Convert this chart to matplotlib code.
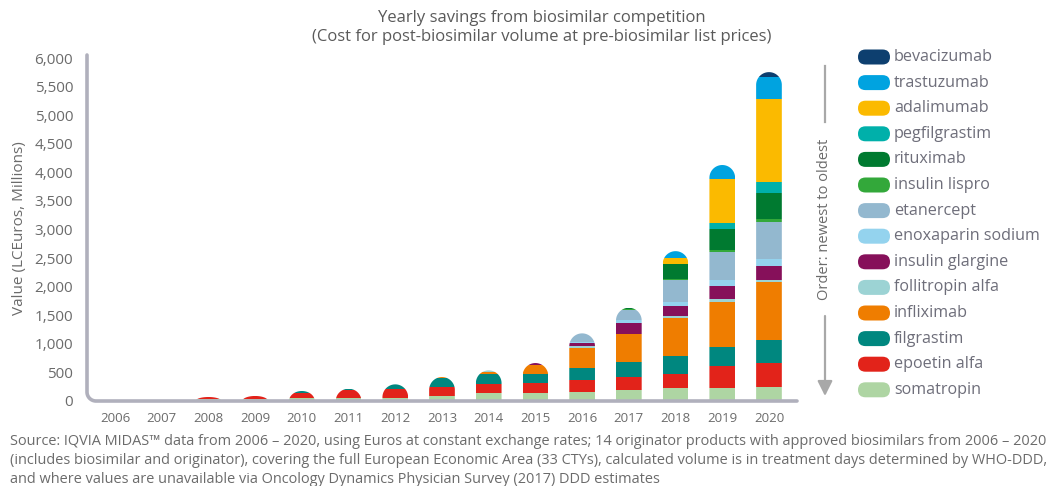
import numpy as np
import matplotlib
matplotlib.use('Agg')
import matplotlib.pyplot as plt
from matplotlib.patches import FancyBboxPatch, PathPatch
from matplotlib.path import Path
from matplotlib.transforms import IdentityTransform
from matplotlib.lines import Line2D

# ---------------- data (EUR millions) ----------------
years = [2006, 2007, 2008, 2009, 2010, 2011, 2012, 2013, 2014, 2015, 2016, 2017, 2018, 2019, 2020]

somatropin        = [3, 20, 28, 38, 58, 58, 58, 87, 146, 146, 157, 187, 233, 233, 251]
epoetin_alfa      = [0, 0, 42, 50, 76, 140, 157, 163, 157, 175, 210, 233, 239, 379, 408]
filgrastim        = [0, 0, 0, 0, 41, 17, 76, 146, 163, 146, 204, 262, 321, 338, 408]
infliximab        = [0, 0, 0, 0, 0, 0, 0, 23, 40, 157, 362, 484, 659, 787, 1021]
follitropin_alfa  = [0, 0, 0, 0, 0, 0, 0, 0, 30, 10, 29, 12, 35, 41, 29]
insulin_glargine  = [0, 0, 0, 0, 0, 0, 0, 0, 0, 30, 58, 181, 175, 233, 245]
enoxaparin_sodium = [0, 0, 0, 0, 0, 0, 0, 0, 0, 0, 17, 52, 64, 105, 122]
etanercept        = [0, 0, 0, 0, 0, 0, 0, 0, 0, 0, 146, 175, 385, 496, 653]
insulin_lispro    = [0, 0, 0, 0, 0, 0, 0, 0, 0, 0, 0, 25, 17, 29, 40]
rituximab         = [0, 0, 0, 0, 0, 0, 0, 0, 0, 0, 0, 20, 262, 367, 455]
pegfilgrastim     = [0, 0, 0, 0, 0, 0, 0, 0, 0, 0, 0, 0, 15, 111, 204]
adalimumab        = [0, 0, 0, 0, 0, 0, 0, 0, 0, 0, 0, 0, 99, 764, 1440]
trastuzumab       = [0, 0, 0, 0, 0, 0, 0, 0, 0, 0, 0, 0, 117, 245, 397]
bevacizumab       = [0, 0, 0, 0, 0, 0, 0, 0, 0, 0, 0, 0, 0, 0, 80]

# stacking order: bottom -> top
series_names = ["somatropin", "epoetin alfa", "filgrastim", "infliximab", "follitropin alfa",
                "insulin glargine", "enoxaparin sodium", "etanercept", "insulin lispro",
                "rituximab", "pegfilgrastim", "adalimumab", "trastuzumab", "bevacizumab"]
series_values = [somatropin, epoetin_alfa, filgrastim, infliximab, follitropin_alfa,
                 insulin_glargine, enoxaparin_sodium, etanercept, insulin_lispro,
                 rituximab, pegfilgrastim, adalimumab, trastuzumab, bevacizumab]
series_colors = ["#aed5a3", "#e2231a", "#00877f", "#ef7d00", "#9cd3d4",
                 "#86105a", "#94d3ee", "#93b8cf", "#33a83a",
                 "#007a30", "#00b0aa", "#fbba00", "#00a3e0", "#0d3f6f"]

yticks = list(range(0, 6001, 500))
ytick_labels = [f"{v:,}" for v in yticks]

title_line1 = "Yearly savings from biosimilar competition"
title_line2 = "(Cost for post-biosimilar volume at pre-biosimilar list prices)"
ylabel_text = "Value (LCEuros, Millions)"
order_text = "Order: newest to oldest"
source_lines = [
    "Source: IQVIA MIDAS\u2122 data from 2006 \u2013 2020, using Euros at constant exchange rates; 14 originator products with approved biosimilars from 2006 \u2013 2020",
    "(includes biosimilar and originator), covering the full European Economic Area (33 CTYs), calculated volume is in treatment days determined by WHO-DDD,",
    "and where values are unavailable via Oncology Dynamics Physician Survey (2017) DDD estimates",
]

# ---------------- style ----------------
plt.rcParams['font.family'] = ['Open Sans', 'DejaVu Sans']
TXT = "#6b6b6b"
AXC = "#b0b0bc"
W, H = 1051, 486
DPI = 100

fig = plt.figure(figsize=(W / DPI, H / DPI), dpi=DPI)
ax_left, ax_right, ax_top, ax_bot = 87, 797, 55, 401
ax = fig.add_axes([ax_left / W, 1 - ax_bot / H, (ax_right - ax_left) / W, (ax_bot - ax_top) / H])

x = np.arange(len(years))
bar_w = 0.55
ax.set_xlim(-0.6, len(years) - 1 + 0.6)
ax.set_ylim(0, 6000 * (ax_bot - ax_top) / (ax_bot - 58))

bottoms = np.zeros(len(years))
containers = []
for name, vals, col in zip(series_names, series_values, series_colors):
    v = np.array(vals, dtype=float)
    bc = ax.bar(x, v, bar_w, bottom=bottoms, color=col, linewidth=0, zorder=2)
    containers.append(bc)
    bottoms = bottoms + v
totals = bottoms

# rounded tops: clip every stack with a half-round cap shape
p0 = ax.transData.transform((0, 0))
p1 = ax.transData.transform((1, 1))
px_per_x = p1[0] - p0[0]
px_per_y = p1[1] - p0[1]
rx = bar_w / 2
ry_full = rx * px_per_x / px_per_y
for j in range(len(years)):
    T = totals[j]
    if T <= 0:
        continue
    h = min(ry_full, T)
    base = T - h
    theta = np.linspace(np.pi, 0, 60)
    xs = x[j] + rx * np.cos(theta)
    ys = base + h * np.sin(theta)
    verts = [(x[j] - rx, 0)] + list(zip(xs, ys)) + [(x[j] + rx, 0), (x[j] - rx, 0)]
    codes = [Path.MOVETO] + [Path.LINETO] * (len(verts) - 2) + [Path.CLOSEPOLY]
    clip = PathPatch(Path(verts, codes), transform=ax.transData)
    for bc in containers:
        bc.patches[j].set_clip_path(clip)

# axes styling
for s in ax.spines.values():
    s.set_visible(False)
ax.set_yticks(yticks)
ax.set_yticklabels(ytick_labels)
ax.set_xticks(x)
ax.set_xticklabels([str(y) for y in years])
ax.tick_params(axis='y', length=0, pad=10, labelsize=11, labelcolor=TXT)
ax.tick_params(axis='x', length=0, pad=8, labelsize=9.5, labelcolor=TXT)

# L-shaped axis line with rounded corner
axw = ax_right - ax_left
axh = ax_bot - ax_top
r = 9
t = np.linspace(np.pi, 1.5 * np.pi, 20)
cx, cy = r / axw, r / axh
lx = [0, 0] + list(cx + (r / axw) * np.cos(t)) + [1]
ly = [1, cy] + list(cy + (r / axh) * np.sin(t)) + [0]
ax.plot(lx, ly, transform=ax.transAxes, color=AXC, lw=2.6, clip_on=False,
        solid_capstyle='round', zorder=5)

# titles
fig.text(542 / W, 1 - 18 / H, title_line1, ha='center', va='center', fontsize=12, color="#5a5a5a")
fig.text(542 / W, 1 - 37 / H, title_line2, ha='center', va='center', fontsize=12, color="#5a5a5a")
fig.text(20 / W, 1 - 228 / H, ylabel_text, rotation=90, ha='center', va='center',
         fontsize=11, color=TXT)

# order arrow
fig.add_artist(Line2D([825 / W, 825 / W], [1 - 66 / H, 1 - 122 / H], color="#a8a8a8", lw=1.6))
fig.text(825 / W, 1 - 219 / H, order_text, rotation=90, ha='center', va='center',
         fontsize=10.5, color=TXT)
ax.annotate("", xy=(825, H - 396), xytext=(825, H - 316), xycoords='figure pixels',
            textcoords='figure pixels',
            arrowprops=dict(arrowstyle='-|>,head_length=0.9,head_width=0.45',
                            color="#a8a8a8", lw=1.6, shrinkA=0, shrinkB=0))

# legend (newest to oldest = top of stack first)
leg_y0, leg_dy = 57, 25.6
for k, idx in enumerate(range(len(series_names) - 1, -1, -1)):
    yc = leg_y0 + k * leg_dy
    pill = FancyBboxPatch((858, H - yc - 7.5), 32, 15,
                          boxstyle="round,pad=0,rounding_size=7.5",
                          transform=IdentityTransform(), facecolor=series_colors[idx],
                          edgecolor='none')
    fig.patches.append(pill)
    fig.text(894 / W, 1 - yc / H, series_names[idx], ha='left', va='center',
             fontsize=11.6, color="#6e6e7a")

# source note, fitted to its measured width
src_texts = []
for i, line in enumerate(source_lines):
    src_texts.append(fig.text(10 / W, 1 - (441 + i * 19) / H, line, ha='left', va='center',
                              fontsize=10, color=TXT))
fig.canvas.draw()
wpx = src_texts[0].get_window_extent().width
fs = 10 * 1035 / wpx
for tx in src_texts:
    tx.set_fontsize(fs)

fig.savefig("out.png", dpi=DPI)
